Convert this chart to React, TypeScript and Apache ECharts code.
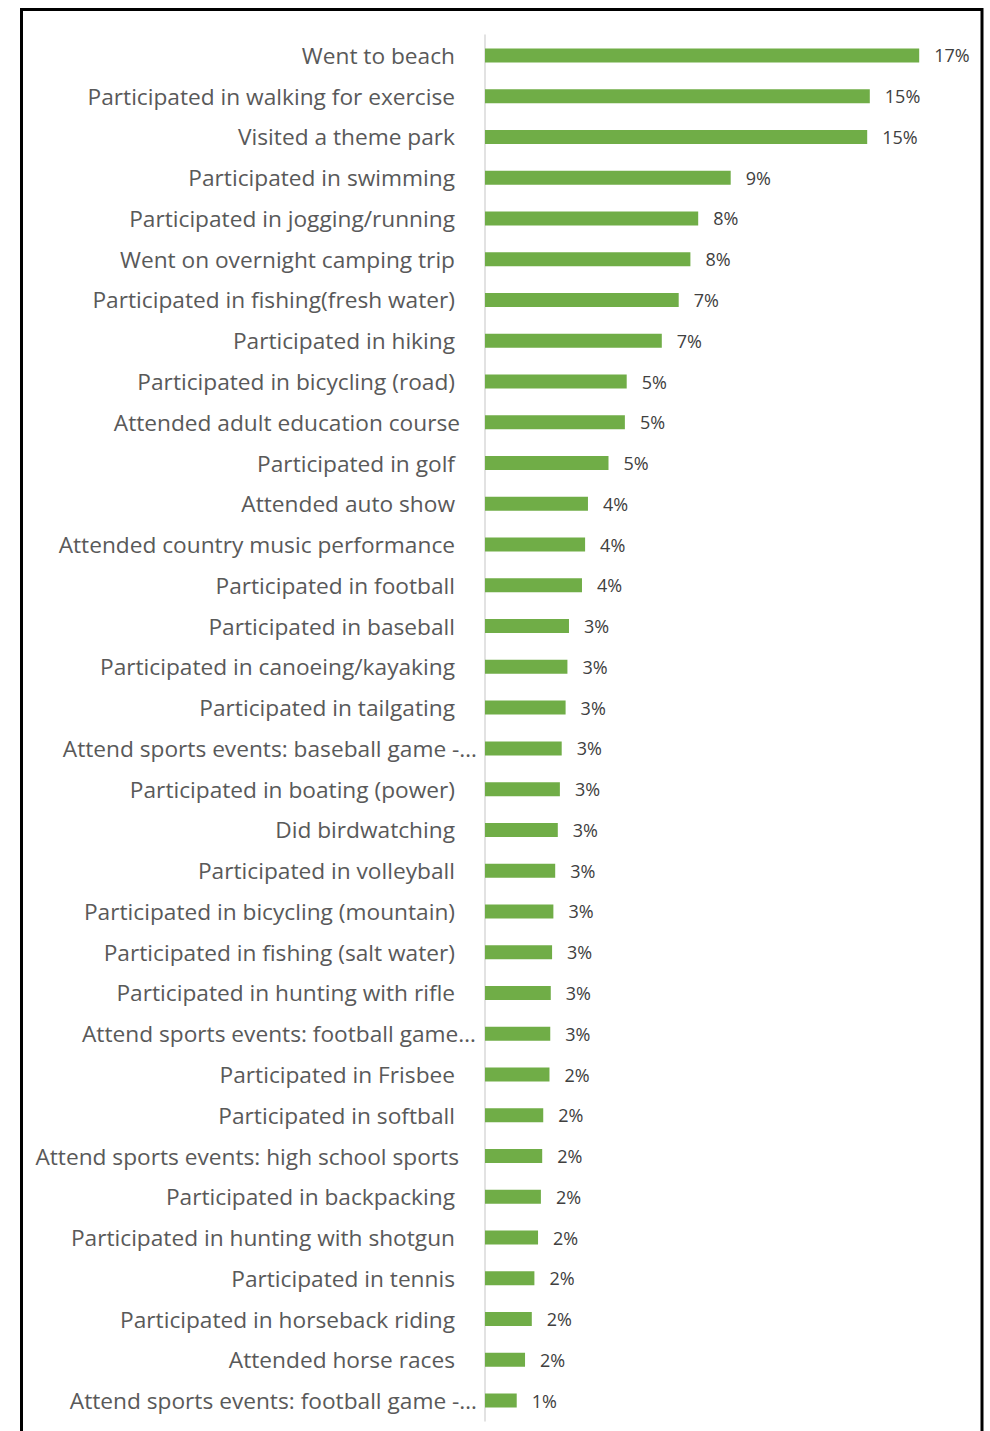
import React, { useEffect, useRef } from "react";
import * as echarts from "echarts";

const categories: string[] = [
  "Went to beach",
  "Participated in walking for exercise",
  "Visited a theme park",
  "Participated in swimming",
  "Participated in jogging/running",
  "Went on overnight camping trip",
  "Participated in fishing(fresh water)",
  "Participated in hiking",
  "Participated in bicycling (road)",
  "Attended adult education course",
  "Participated in golf",
  "Attended auto show",
  "Attended country music performance",
  "Participated in football",
  "Participated in baseball",
  "Participated in canoeing/kayaking",
  "Participated in tailgating",
  "Attend sports events: baseball game -…",
  "Participated in boating (power)",
  "Did birdwatching",
  "Participated in volleyball",
  "Participated in bicycling (mountain)",
  "Participated in fishing (salt water)",
  "Participated in hunting with rifle",
  "Attend sports events: football game…",
  "Participated in Frisbee",
  "Participated in softball",
  "Attend sports events: high school sports",
  "Participated in backpacking",
  "Participated in hunting with shotgun",
  "Participated in tennis",
  "Participated in horseback riding",
  "Attended horse races",
  "Attend sports events: football game -…",
];

// share of respondents, in percent
const values: number[] = [
  16.7, 14.8, 14.7, 9.45, 8.2, 7.9, 7.45, 6.8, 5.45, 5.38, 4.75, 3.96, 3.85,
  3.73, 3.23, 3.17, 3.1, 2.95, 2.88, 2.8, 2.7, 2.63, 2.58, 2.53, 2.51, 2.48,
  2.24, 2.2, 2.15, 2.04, 1.9, 1.8, 1.54, 1.22,
];

// labels that spill further right than the rest (Excel truncation)
const labelShift: Record<string, number> = {
  "Attend sports events: baseball game -…": 22,
  "Attend sports events: football game…": 21,
  "Attend sports events: football game -…": 22,
  "Attend sports events: high school sports": 4,
  "Attended adult education course": 5,
};

const axisMax = 18;

export default function App() {
  const ref = useRef<HTMLDivElement>(null);
  useEffect(() => {
    document.body.style.margin = "0";
    const chart = echarts.init(ref.current!, null, { renderer: "svg" });
    chart.setOption({
      animation: false,
      backgroundColor: "#ffffff",
      textStyle: { fontFamily: "Open Sans" },
      grid: { left: 485, top: 35, width: 468, height: 1386 },
      xAxis: {
        type: "value",
        min: 0,
        max: axisMax,
        show: false,
        splitLine: { show: false },
      },
      yAxis: {
        type: "category",
        inverse: true,
        data: categories.map((c) =>
          labelShift[c]
            ? { value: c, textStyle: { padding: [0, -labelShift[c], 0, 0] } }
            : c
        ),
        axisLine: { show: true, lineStyle: { color: "#d9d9d9", width: 1.5 } },
        axisTick: { show: false },
        axisLabel: {
          margin: 30,
          color: "#595959",
          fontSize: 22.7,
          fontFamily: "Open Sans",
        },
      },
      series: [
        {
          type: "bar",
          data: values,
          barWidth: 14,
          itemStyle: { color: "#70ad47" },
          label: {
            show: true,
            position: "right",
            distance: 15,
            color: "#404040",
            fontSize: 18,
            fontFamily: "Open Sans",
            formatter: (p: any) => Math.round(p.value) + "%",
          },
        },
      ],
      graphic: [
        {
          type: "rect",
          shape: { x: 21.5, y: 9.5, width: 960.5, height: 1440 },
          style: { fill: "none", stroke: "#000000", lineWidth: 3 },
          silent: true,
        },
      ],
    });
    return () => chart.dispose();
  }, []);
  return <div ref={ref} style={{ width: 990, height: 1431 }} />;
}
